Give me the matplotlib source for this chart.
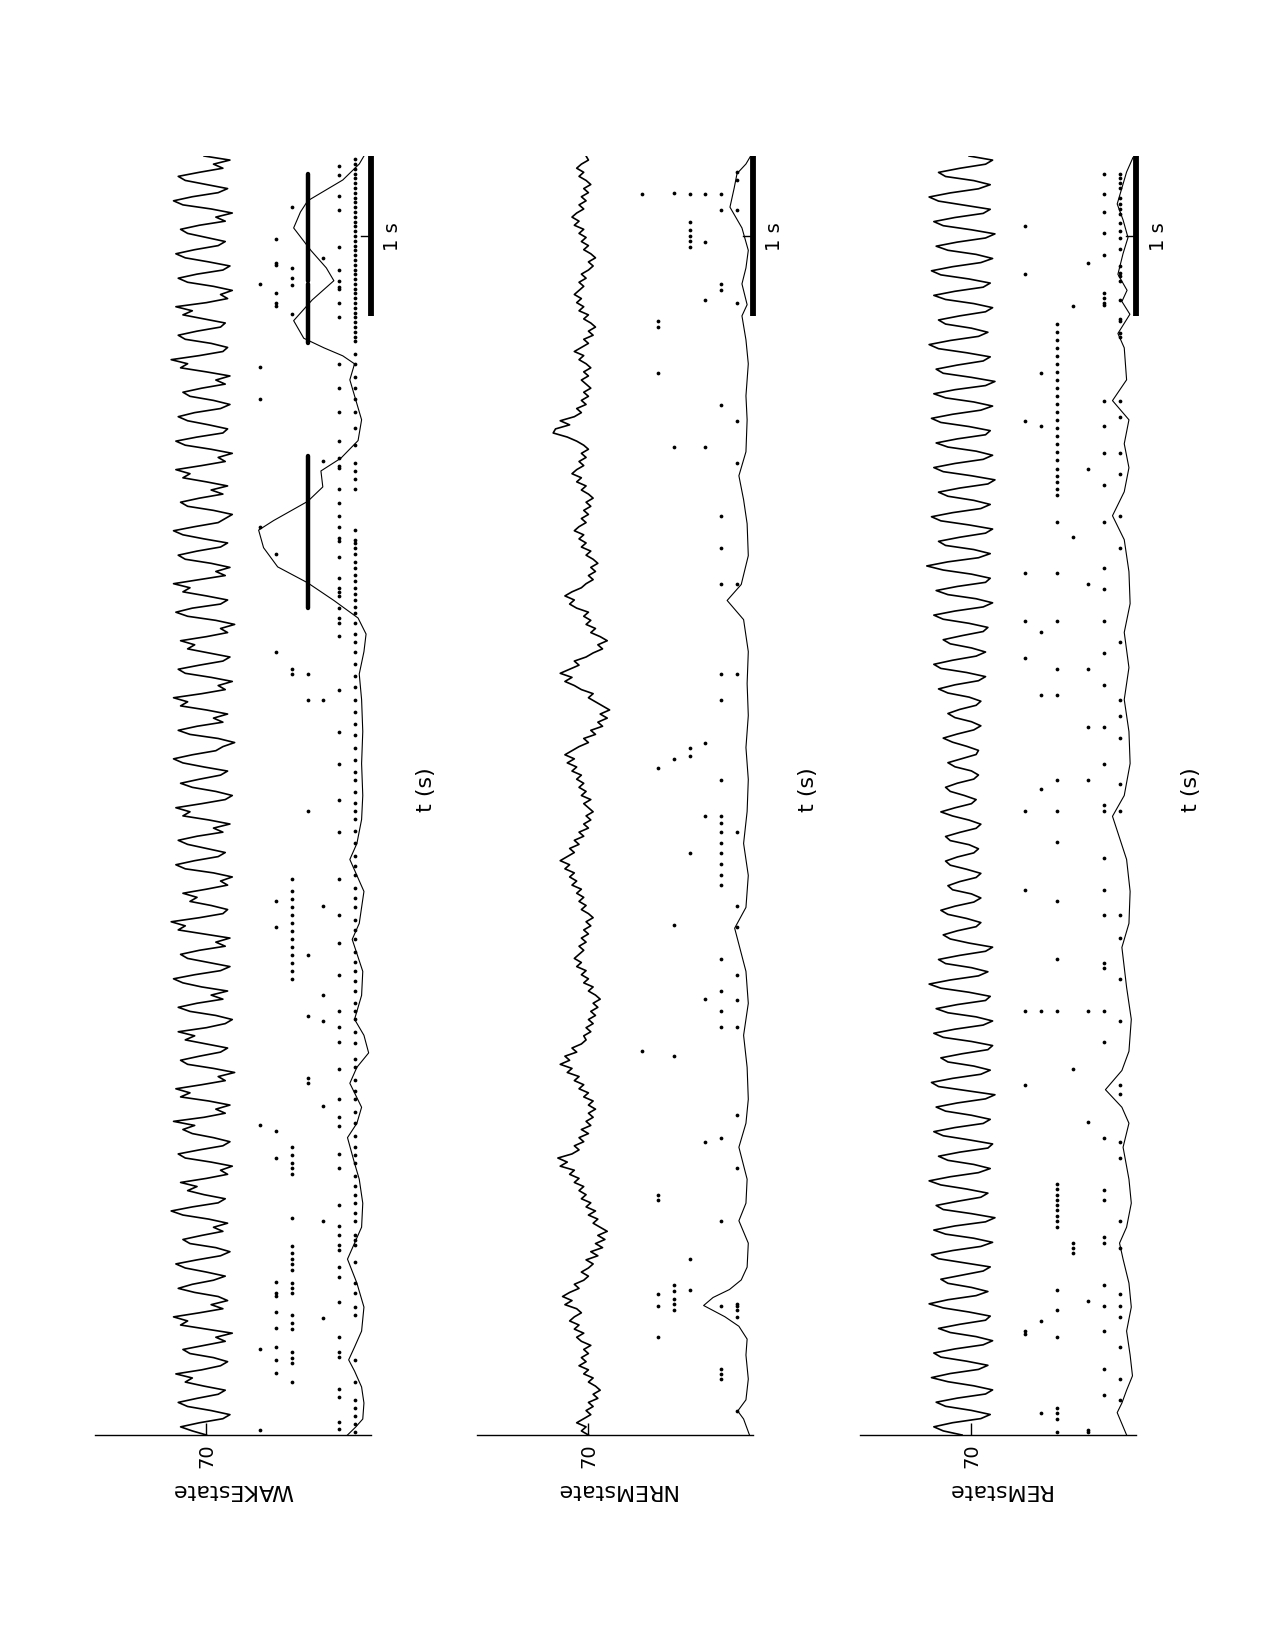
import numpy as np
import matplotlib
matplotlib.use("Agg")
import matplotlib.pyplot as plt

# ---------------- data ----------------
state_names = ["WAKEstate", "NREMstate", "REMstate"]
tick_value = 70
t_end = 8.0
row_levels = [6.75, 13.5, 20.25, 27.0, 33.75, 40.5, 47.25]

# LFP traces (evenly sampled over 0..8 s)
wake_lfp = [70,76,81,73,63,60,68,78,82,74,65,62,71,79,76,83,72,64,61,67,
            77,80,71,62,66,59,70,81,78,84,73,63,68,61,65,75,82,76,67,62,
            70,79,83,74,64,60,66,77,80,72,63,67,61,69,80,85,76,65,62,71,
            78,74,81,70,61,64,59,68,79,82,73,63,60,67,76,80,75,84,71,62,
            66,60,69,81,77,83,72,62,65,58,67,78,81,73,64,61,70,79,75,82,
            70,62,59,66,77,82,74,63,68,61,72,80,84,75,64,60,69,78,81,73,
            62,66,60,71,82,79,85,73,63,61,68,77,74,80,70,61,64,59,67,79,
            83,75,65,62,70,78,82,74,63,67,60,69,80,77,83,72,62,59,66,76,
            81,73,64,61,71,80,84,76,66,63,58,65,77,82,74,63,67,61,70,81,
            78,84,72,62,65,59,68,79,82,73,63,60,69,78,75,81,70,61,64,58,
            66,78,83,76,64,61,70,80,77,84,73,62,66,60,68,79,82,74,64,61,
            71,80,84,75,65,62,59,67,78,81,73,63,68,61,70,80,77,83,72,62,
            65,59,68,79,83,74,63,61,69,78,82,75,64,60,67,77,80,72,62,66,
            60,70,81,78,85,73,63,61,68,79,82,74,64,62,71,80,76,83,70,61,
            64,59,67,78,82,74,63,60,69,79,83,75,65,62,70,78,81,73,62,66,
            59,68,80,84,76,65,61,70,79,82,73,63,67,60,71]
nrem_lfp = [70,73,71,75,72,69,71,68,70,66,68,65,67,70,68,72,70,74,71,73,
            70,72,69,73,75,72,76,74,78,76,73,75,80,77,81,78,74,76,72,70,
            73,70,68,71,66,69,64,67,63,66,62,65,68,66,70,67,71,69,73,71,
            74,72,76,74,78,76,82,79,83,77,74,76,72,74,70,73,69,71,68,70,
            67,70,68,72,70,74,72,76,74,79,77,82,78,80,75,77,73,71,72,69,
            71,68,70,67,69,66,68,65,67,70,68,72,70,73,71,75,73,76,74,72,
            74,71,73,70,72,69,71,68,70,73,71,74,72,75,73,77,75,78,76,80,
            78,82,79,76,78,74,76,72,74,70,72,69,71,68,70,72,69,73,71,74,
            72,75,73,77,75,79,76,80,77,74,70,72,67,69,64,66,62,65,61,64,
            67,70,68,73,76,80,77,82,78,74,76,71,68,64,66,62,65,69,67,71,
            69,72,70,75,78,76,80,77,73,71,68,70,67,69,66,68,71,69,73,71,
            74,72,76,74,71,73,70,72,69,71,68,70,73,71,75,73,77,75,72,74,
            71,73,70,72,75,79,85,84,78,82,76,73,75,71,73,70,72,69,71,73,
            70,72,69,71,74,72,76,73,70,72,68,70,67,69,72,70,74,72,75,73,
            76,74,72,74,71,73,70,68,70,67,69,72,70,73,71,74,72,76,74,77,
            75,72,74,71,73,70,72,69,71,74,72,75,73,70,71]
rem_lfp = [74,82,86,78,66,62,70,81,85,76,64,61,69,80,87,79,67,63,72,83,
           86,77,65,61,68,79,84,75,64,62,71,82,88,80,68,63,70,80,83,74,
           65,62,73,84,87,78,66,61,69,81,86,77,64,60,70,82,85,76,66,63,
           72,83,88,79,67,62,69,80,84,75,63,61,71,82,86,77,65,62,70,81,
           85,76,64,60,72,84,87,78,66,62,69,80,83,74,63,61,70,82,86,77,
           65,61,68,80,85,76,64,62,71,83,88,79,67,63,70,81,84,75,64,61,
           71,79,82,76,68,66,72,80,83,77,69,66,70,78,80,75,68,66,72,79,
           81,76,69,67,71,79,81,75,68,66,71,78,83,77,70,68,73,79,81,76,
           69,67,70,77,80,74,68,67,72,78,82,76,69,66,70,77,80,75,68,66,
           71,80,84,77,67,64,72,83,86,78,68,64,70,79,82,74,65,63,71,82,
           86,77,65,61,68,80,85,76,64,62,70,82,89,80,67,62,69,81,84,75,
           64,61,71,83,87,78,66,62,69,80,84,75,63,60,70,82,86,77,65,61,
           68,80,85,76,64,62,71,83,87,78,66,61,69,81,86,77,64,60,70,82,
           85,76,65,62,72,84,88,79,67,63,70,81,84,75,64,61,69,81,86,77,
           65,62,71,83,87,78,66,61,68,80,85,76,64,60,70,82,86,77,65,62,
           73,84,88,79,67,62,69,81,84,75,64,61,71]

# smoothed population rate curves (time, value)
wake_rate_t = [0,0.05,0.1,0.2,0.3,0.4,0.47,0.55,0.65,0.8,0.95,1.1,1.2,1.3,1.45,1.6,1.7,1.86,1.95,2.05,
               2.2,2.3,2.39,2.5,2.6,2.75,2.9,3.1,3.2,3.4,3.6,3.7,3.85,4.0,4.2,4.4,4.6,4.76,4.9,5.01,
               5.11,5.22,5.33,5.43,5.55,5.66,5.72,5.84,5.93,6.03,6.11,6.22,6.35,6.5,6.6,6.7,6.75,6.8,6.86,6.97,
               7.1,7.22,7.3,7.41,7.55,7.65,7.72,7.85,7.95,8.0]
wake_rate_v = [10,6.5,3.5,3,4,7,9.5,7,4,3,6,10,7,4,3.5,5,7,10,6,4,
               9,6,1,3,7,4,3.5,8,5,3,9,6,4,3.5,4,3.5,4,5,3,2.1,
               5.5,15.8,26.9,39.7,45.7,47.8,41.4,26.9,20.5,21.3,12.8,5.5,4,7,9,7,12,20,28.6,32.9,
               25,15.8,19,25.6,32.9,30,26.9,12,5,3]
nrem_rate_t = [0,0.1,0.15,0.22,0.35,0.5,0.6,0.68,0.74,0.81,0.86,0.91,0.97,1.05,1.2,1.34,1.45,1.6,1.8,1.95,
               2.1,2.3,2.5,2.7,2.9,3.17,3.3,3.5,3.7,3.9,4.1,4.3,4.5,4.7,4.9,5.1,5.22,5.32,5.5,5.7,
               5.85,6.0,6.15,6.35,6.5,6.7,6.85,7.0,7.07,7.2,7.3,7.41,7.55,7.68,7.8,7.89,7.95,8.0]
nrem_rate_v = [1.5,4,6.5,3,2,3,2.5,6,12,21,17,10,5,2.5,2,6,3,2.5,6,3,
               2,2.5,4,2,3,7.8,3,2,4,2.5,2,3,2,2.5,2,4,11,5,2,2.5,
               4,6,3,2.5,3,2,3,4.7,2.5,4.7,3,2,4.7,9.8,8,6.8,3,1]
rem_rate_t = [0,0.07,0.14,0.2,0.28,0.37,0.5,0.65,0.8,0.95,1.1,1.2,1.3,1.45,1.6,1.8,1.95,2.05,2.16,2.28,
              2.4,2.6,2.8,3.05,3.2,3.4,3.6,3.87,4.0,4.2,4.4,4.6,4.8,5.02,5.2,5.4,5.6,5.75,5.9,6.05,
              6.2,6.35,6.47,6.6,6.8,6.89,7.01,7.09,7.16,7.26,7.39,7.49,7.6,7.7,7.8,7.9,7.99]
rem_rate_v = [4,6,8,6,4,1.5,2.5,4,2,3,5.5,7,4,2,3,5.5,3,6,13,6,
              3,2,4,6,3,2.5,4,10,5,2.5,3,5,3,5,2.5,3,5,10,5,3,
              5,3,10,4,5,7.7,2.6,6,3.8,7.7,5.5,3.4,5.5,8,6,4,1.3]

# spike times (s) per raster row, row 1 = nearest the rate curve
wake_spikes = [
    [0.02,0.07,0.12,0.17,0.22,0.33,0.47,0.75,0.8,0.89,0.95,1.08,1.19,1.22,1.25,1.34,1.39,1.45,
     1.5,1.56,1.62,1.7,1.75,1.8,1.87,1.95,2.02,2.1,2.15,2.22,2.3,2.35,2.45,2.52,2.6,2.65,2.7,2.78,
     2.84,2.9,2.96,3.02,3.1,3.16,3.22,3.3,3.36,3.42,3.5,3.56,3.62,3.7,3.78,3.85,3.9,3.95,4.02,4.1,
     4.15,4.22,4.3,4.38,4.45,4.52,4.6,4.68,4.75,4.82,4.9,4.96,5.01,5.08,5.14,5.18,5.22,5.26,5.3,
     5.34,5.38,5.42,5.46,5.51,5.55,5.58,5.6,5.66,5.92,5.98,6.03,6.08,6.19,6.3,6.4,6.48,6.55,6.62,
     6.7,6.76,6.84,6.87,6.9,6.93,6.96,6.99,7.02,7.05,7.08,7.11,7.14,7.17,7.2,7.23,7.26,7.29,7.32,
     7.35,7.38,7.41,7.44,7.47,7.5,7.53,7.56,7.59,7.62,7.65,7.68,7.71,7.74,7.77,7.8,7.83,7.86,7.89,
     7.92,7.95,7.98],
    [0.04,0.08,0.24,0.29,0.49,0.52,0.61,0.83,0.99,1.05,1.16,1.19,1.25,1.31,1.44,1.67,1.76,1.93,
     1.99,2.1,2.29,2.46,2.55,2.65,2.88,3.08,3.25,3.48,3.77,3.97,4.2,4.4,4.66,5.0,5.08,5.11,5.17,
     5.25,5.27,5.3,5.36,5.49,5.59,5.61,5.68,5.75,5.83,5.92,6.05,6.06,6.11,6.22,6.4,6.55,6.7,6.99,
     7.08,7.17,7.18,7.22,7.29,7.43,7.66,7.75,7.88,7.94],
    [0.73,1.34,2.06,2.59,2.75,3.31,4.6,6.09,7.36],
    [2.2,2.23,2.62,3.0,3.9,4.6,4.76],
    [0.33,0.45,0.48,0.52,0.66,0.7,0.75,0.89,0.92,0.95,1.03,1.07,1.1,1.14,1.18,1.36,1.63,1.67,1.7,
     1.75,1.8,2.85,2.9,2.95,3.0,3.05,3.1,3.15,3.2,3.25,3.3,3.35,3.4,3.48,4.76,4.79,7.01,7.19,7.24,
     7.3,7.68],
    [0.39,0.47,0.55,0.67,0.77,0.87,0.89,0.96,1.73,1.9,3.18,3.34,4.9,5.51,7.06,7.08,7.14,7.32,7.33,7.48],
    [0.03,0.54,1.94,5.68,6.48,6.68,7.2],
]
# bursts on WAKE row 4 (start, end) drawn as solid bars of spikes
wake_burst_start = [5.175, 6.83, 7.22]
wake_burst_end = [6.125, 7.20, 7.89]

nrem_spikes = [
    [0.15,0.74,0.78,0.81,0.82,1.67,2.0,2.55,2.72,2.88,3.18,3.31,3.77,4.76,5.32,6.08,6.34,7.08,7.66,7.85,7.9],
    [0.35,0.38,0.41,0.81,1.34,1.86,2.55,2.65,2.78,2.98,3.44,3.5,3.57,3.64,3.7,3.77,3.83,3.87,4.1,4.6,
     4.76,5.32,5.55,5.75,6.44,7.16,7.2,7.66,7.76],
    [1.83,2.73,3.87,4.33,6.18,7.1,7.46,7.76],
    [0.91,1.1,3.64,4.25,4.3,7.43,7.47,7.5,7.54,7.59,7.76],
    [0.78,0.82,0.85,0.9,0.94,2.37,3.19,4.23,6.18,7.77],
    [0.61,0.81,0.88,1.47,1.5,4.17,6.64,6.93,6.97],
    [2.4,7.76],
]
rem_spikes = [
    [0.22,0.35,0.55,0.74,0.81,0.88,1.17,1.34,1.73,1.83,2.13,2.19,2.59,2.85,3.11,3.25,3.9,4.07,4.36,
     4.5,4.6,4.96,5.55,5.75,6.01,6.14,6.37,6.47,6.87,6.89,6.97,6.98,7.1,7.22,7.25,7.27,7.31,7.42,
     7.49,7.53,7.58,7.64,7.67,7.7,7.74,7.8,7.83,7.86,7.89],
    [0.25,0.41,0.65,0.81,0.94,1.2,1.24,1.47,1.53,1.86,2.46,2.65,2.92,2.95,3.25,3.41,3.61,3.9,3.94,
     4.2,4.43,4.69,4.89,5.09,5.29,5.42,5.71,5.94,6.14,6.31,6.47,7.07,7.08,7.11,7.14,7.38,7.52,7.65,
     7.76,7.89],
    [0.02,0.03,0.84,1.96,2.65,4.1,4.43,4.79,5.32,6.04,7.33],
    [1.14,1.17,1.2,2.29,5.62,7.06],
    [0.02,0.1,0.14,0.17,0.61,0.78,0.91,1.3,1.34,1.37,1.41,1.44,1.47,1.5,1.54,1.57,2.65,2.98,3.34,
     3.71,3.9,4.1,4.63,4.79,5.09,5.39,5.71,5.88,5.92,5.96,6.0,6.04,6.1,6.15,6.2,6.25,6.3,6.35,6.4,
     6.45,6.5,6.55,6.6,6.65,6.7,6.75,6.8,6.85,6.9,6.95],
    [0.14,0.71,2.65,4.04,4.63,5.02,6.31,6.64],
    [0.63,0.65,2.19,2.65,3.41,3.9,4.86,5.09,5.39,6.34,7.26,7.56],
]

# ---------------- layout ----------------
W, H = 1275, 1650
fig = plt.figure(figsize=(W / 100, H / 100), dpi=100)

panel_left = [95, 477, 860]
panel_width = 276
top_px, bottom_px = 156, 1435
x_max = 117.4

lfps = [wake_lfp, nrem_lfp, rem_lfp]
rates = [(wake_rate_t, wake_rate_v), (nrem_rate_t, nrem_rate_v), (rem_rate_t, rem_rate_v)]
spikes = [wake_spikes, nrem_spikes, rem_spikes]

for i in range(3):
    l = panel_left[i]
    ax = fig.add_axes([l / W, 1 - bottom_px / H, panel_width / W, (bottom_px - top_px) / H])
    ax.set_xlim(x_max, 0)
    ax.set_ylim(0, t_end)
    for s in ["top", "left", "right"]:
        ax.spines[s].set_visible(False)
    ax.spines["bottom"].set_linewidth(1.0)
    ax.set_yticks([])
    ax.set_xticks([tick_value])
    ax.set_xticklabels([str(tick_value)])
    ax.tick_params(axis="x", direction="in", length=8.5, width=1.0, labelsize=14,
                   labelrotation=90, pad=6)

    lfp = lfps[i]
    tt = np.linspace(0, t_end, len(lfp))
    ax.plot(lfp, tt, color="black", lw=1.2)

    rt, rv = rates[i]
    ax.plot(rv, rt, color="black", lw=0.8)

    for k, times in enumerate(spikes[i]):
        ax.plot([row_levels[k]] * len(times), times, "o", color="black", ms=2.7, mew=0)
    if i == 0:
        for a, b in zip(wake_burst_start, wake_burst_end):
            ax.plot([row_levels[3], row_levels[3]], [a, b], color="black", lw=3.2,
                    solid_capstyle="round")

    # 1 s scale bar
    ax.plot([0, 0], [t_end - 1, t_end], color="black", lw=4.2, clip_on=False,
            solid_capstyle="butt")
    ax.plot([0, 4.3], [t_end - 0.5, t_end - 0.5], color="black", lw=1.0, clip_on=False)

    right = l + panel_width
    fig.text((right + 22) / W, 1 - 237 / H, "1 s", rotation=90, ha="center", va="center",
             fontsize=14)
    fig.text((right + 55) / W, 1 - 790 / H, "t (s)", rotation=90, ha="center", va="center",
             fontsize=16)
    fig.text((l + panel_width / 2) / W, 1 - 1490 / H, state_names[i], rotation=180,
             ha="center", va="center", fontsize=16)

fig.savefig("out.png", dpi=100)
